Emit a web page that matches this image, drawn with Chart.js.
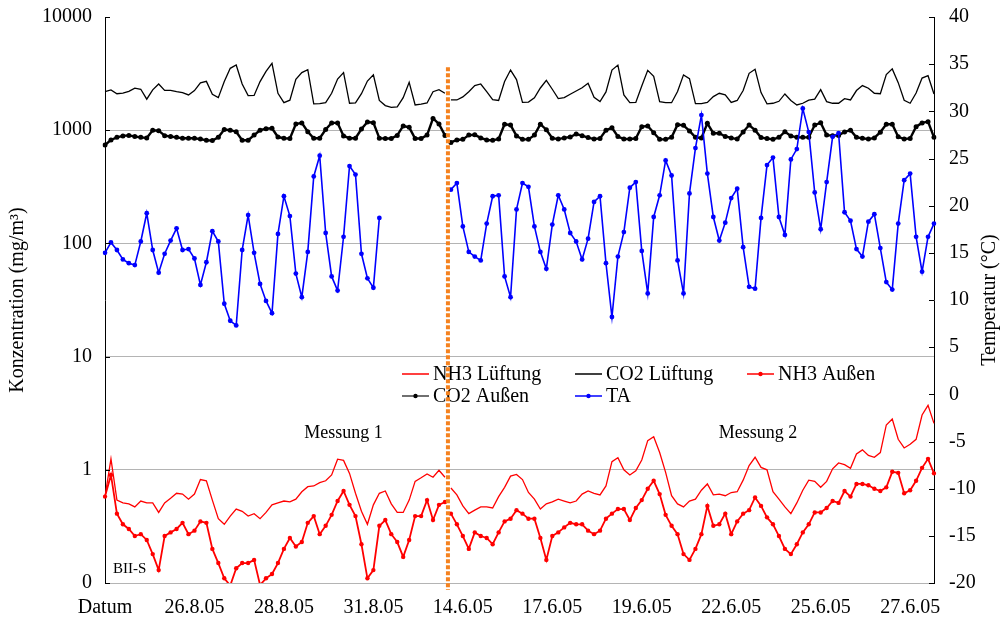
<!DOCTYPE html>
<html>
<head>
<meta charset="utf-8">
<script src="https://cdn.jsdelivr.net/npm/chart.js@4.4.1/dist/chart.umd.min.js"></script>
<style>
  html, body { margin: 0; padding: 0; background: #fff; }
</style>
</head>
<body>
<canvas id="myChart" width="1005" height="618"></canvas>
<script>
// x axis: one category per sample, a date label every 15 samples
const tickLabels = ['Datum', '26.8.05', '28.8.05', '31.8.05', '14.6.05', '17.6.05', '19.6.05', '22.6.05', '25.6.05', '27.6.05'];
const labelEvery = 15;
const splitIndex = 58; // first sample of Messung 2

const concTicks = [0.1, 1, 10, 100, 1000, 10000];

// CO2 Lüftung (mg/m3)
const co2Luft = [
  2190, 2270, 2100, 2130, 2200, 2350, 2300, 1880, 2270, 2560,
  2250, 2250, 2190, 2150, 2050, 2240, 2620, 2700, 2080, 1940,
  2690, 3520, 3770, 2560, 2020, 2030, 2690, 3310, 3900, 2120,
  1750, 1840, 2820, 3230, 3430, 1710, 1720, 1750, 2120, 2830,
  3230, 1730, 1740, 2100, 2720, 3080, 1830, 1650, 1590, 1610,
  1940, 2650, 1670, 1700, 1740, 2190, 2280, 2120,
  1850, 1850, 1970, 2190, 2480, 2560, 2190, 1860, 1830, 2690,
  3400, 2800, 1760, 1770, 1930, 2360, 2760, 2300, 1900, 1940,
  2080, 2220, 2370, 2600, 1950, 1790, 2180, 3400, 3760, 2050,
  1750, 1760, 2460, 3380, 2990, 1790, 1750, 1750, 2200, 3080,
  2850, 1720, 1720, 1760, 1980, 2120, 2050, 1760, 1830, 2240,
  3180, 3450, 2150, 1710, 1730, 1800, 2090, 1830, 1670, 1730,
  1840, 1880, 2280, 1790, 1730, 1730, 1900, 1850, 2240, 2480,
  2350, 2120, 2100, 3100, 3480, 2630, 1840, 1730, 2130, 2890,
  3030, 2090
];

// CO2 Außen (mg/m3)
const co2Aussen = [
  740, 820, 865, 890, 900, 880, 865, 855, 1000, 990,
  895, 880, 865, 850, 850, 850, 835, 815, 810, 865,
  1015, 1000, 970, 815, 815, 905, 1000, 1030, 1040, 870,
  850, 845, 1135, 1160, 970, 850, 850, 1015, 1160, 1160,
  890, 850, 850, 1025, 1180, 1165, 850, 845, 845, 900,
  1090, 1060, 845, 845, 905, 1270, 1135, 900,
  780, 820, 830, 905, 910, 855, 820, 815, 835, 1130,
  1110, 890, 830, 830, 905, 1130, 1010, 850, 835, 855,
  870, 925, 895, 860, 835, 845, 1000, 1050, 880, 835,
  835, 845, 1075, 1090, 950, 830, 830, 865, 1120, 1105,
  985, 865, 855, 1150, 940, 940, 880, 855, 835, 965,
  1110, 1000, 860, 845, 830, 865, 970, 890, 865, 865,
  865, 1110, 1165, 905, 895, 900, 965, 1000, 865, 850,
  835, 855, 960, 1130, 1130, 875, 835, 845, 1075, 1160,
  1190, 865
];

// NH3 Lüftung (mg/m3)
const nh3Luft = [
  0.58, 1.25, 0.54, 0.51, 0.50, 0.47, 0.53, 0.51, 0.51, 0.42,
  0.51, 0.56, 0.62, 0.61, 0.55, 0.61, 0.82, 0.80, 0.54, 0.37,
  0.33, 0.39, 0.45, 0.43, 0.39, 0.41, 0.37, 0.42, 0.49, 0.51,
  0.53, 0.52, 0.55, 0.64, 0.71, 0.72, 0.77, 0.80, 0.90, 1.24,
  1.21, 0.93, 0.62, 0.43, 0.33, 0.49, 0.62, 0.65, 0.50, 0.42,
  0.42, 0.54, 0.79, 0.85, 0.92, 0.86, 0.99, 0.86,
  0.69, 0.60, 0.48, 0.41, 0.44, 0.47, 0.47, 0.46, 0.58, 0.70,
  0.88, 0.91, 0.82, 0.63, 0.55, 0.45, 0.50, 0.52, 0.55, 0.53,
  0.51, 0.53, 0.61, 0.65, 0.62, 0.60, 0.72, 1.18, 1.28, 1.00,
  0.90, 0.98, 1.22, 1.81, 1.96, 1.42, 0.95, 0.59, 0.50, 0.47,
  0.53, 0.55, 0.66, 0.75, 0.60, 0.61, 0.59, 0.63, 0.64, 0.81,
  1.09, 1.29, 1.05, 1.00, 0.64, 0.55, 0.47, 0.41, 0.51, 0.66,
  0.81, 0.79, 0.70, 0.79, 1.02, 1.15, 1.11, 1.03, 1.38, 1.50,
  1.34, 1.29, 1.42, 2.49, 2.81, 1.86, 1.56, 1.68, 1.86, 3.05,
  3.71, 2.57
];

// NH3 Außen (mg/m3)
const nh3Aussen = [
  0.58, 0.90, 0.41, 0.33, 0.30, 0.26, 0.27, 0.24, 0.18, 0.13,
  0.26, 0.28, 0.30, 0.34, 0.27, 0.29, 0.35, 0.34, 0.20, 0.15,
  0.11, 0.095, 0.135, 0.15, 0.15, 0.16, 0.096, 0.11, 0.12, 0.15,
  0.20, 0.25, 0.21, 0.23, 0.34, 0.39, 0.27, 0.32, 0.40, 0.53,
  0.65, 0.49, 0.39, 0.22, 0.11, 0.13, 0.32, 0.36, 0.27, 0.23,
  0.17, 0.24, 0.39, 0.39, 0.54, 0.36, 0.49, 0.52,
  0.41, 0.33, 0.26, 0.20, 0.28, 0.26, 0.25, 0.22, 0.28, 0.35,
  0.37, 0.44, 0.41, 0.37, 0.37, 0.25, 0.16, 0.26, 0.28, 0.31,
  0.34, 0.33, 0.33, 0.29, 0.27, 0.29, 0.37, 0.41, 0.45, 0.45,
  0.36, 0.46, 0.54, 0.68, 0.80, 0.61, 0.40, 0.32, 0.27, 0.18,
  0.16, 0.20, 0.27, 0.48, 0.32, 0.33, 0.41, 0.27, 0.35, 0.41,
  0.44, 0.57, 0.48, 0.38, 0.33, 0.26, 0.20, 0.18, 0.22, 0.28,
  0.33, 0.42, 0.42, 0.46, 0.53, 0.51, 0.65, 0.58, 0.75, 0.75,
  0.73, 0.68, 0.65, 0.70, 0.96, 0.94, 0.62, 0.66, 0.80, 1.04,
  1.25, 0.93
];

// TA (°C), right axis
const ta = [
  15.0, 16.1, 15.3, 14.3, 13.9, 13.7, 16.2, 19.2, 15.3, 12.9,
  14.9, 16.3, 17.6, 15.3, 15.4, 14.4, 11.6, 14.0, 17.3, 16.2,
  9.6, 7.8, 7.3, 15.3, 19.0, 15.0, 11.7, 9.9, 8.6, 17.0,
  21.0, 18.9, 12.8, 10.3, 15.1, 23.1, 25.3, 17.1, 12.5, 11.0,
  16.7, 24.2, 23.3, 14.9, 12.3, 11.3, 18.7,
  null, null, null, null, null, null, null, null, null, null, null,
  21.7, 22.4, 17.8, 15.1, 14.6, 14.2, 18.1, 21.0, 21.1, 12.5,
  10.3, 19.6, 22.4, 22.0, 17.8, 15.1, 13.3, 18.0, 21.1, 19.6,
  17.1, 16.2, 14.3, 16.5, 20.4, 21.0, 13.9, 8.2, 14.6, 17.2,
  21.9, 22.5, 15.2, 10.7, 18.8, 21.1, 24.8, 23.2, 14.2, 10.7,
  21.3, 26.1, 29.6, 23.4, 18.8, 16.3, 18.2, 20.8, 21.8, 15.6,
  11.4, 11.2, 18.7, 24.3, 25.1, 18.8, 16.9, 24.9, 26.0, 30.3,
  27.8, 21.4, 17.5, 22.5, 27.3, 27.7, 19.3, 18.4, 15.4, 14.6,
  18.3, 19.1, 15.5, 11.9, 11.1, 18.1, 22.7, 23.4, 16.7, 13.0,
  16.7, 18.1
];

const labels = co2Luft.map((v, i) => i % labelEvery === 0 ? (tickLabels[i / labelEvery] || '') : '');

const serif = "'Liberation Serif', 'Times New Roman', serif";
const hidden = 'rgba(0,0,0,0)';
const gapAtSplit = { borderColor: c => c.p1DataIndex === splitIndex ? hidden : undefined };

function series(label, data, color, axis, width, radius) {
  return {
    label: label,
    data: data,
    yAxisID: axis,
    borderColor: color,
    backgroundColor: color,
    borderWidth: width,
    pointRadius: radius,
    pointHoverRadius: radius,
    pointBorderWidth: 0,
    pointBackgroundColor: color,
    tension: 0,
    spanGaps: false,
    segment: gapAtSplit
  };
}

// keep the plot area where the reference has it
function fixBox(w, h) {
  return s => {
    if (w) s.width = w;
    if (h) s.height = h;
    s.paddingTop = 0;
    s.paddingBottom = 0;
    s.paddingLeft = 0;
    s.paddingRight = 0;
  };
}

const legendOrder = ['NH3 Lüftung', 'CO2 Lüftung', 'NH3 Außen', 'CO2 Außen', 'TA'];

const extras = {
  id: 'extras',
  afterDatasetsDraw(chart) {
    const { ctx, chartArea } = chart;
    const xs = chart.scales.x, ys = chart.scales.y, yt = chart.scales.y1;
    ctx.save();

    // inward tick marks
    ctx.strokeStyle = '#000';
    ctx.lineWidth = 1;
    ctx.beginPath();
    ys.ticks.forEach(t => {
      const y = Math.round(ys.getPixelForValue(t.value)) + 0.5;
      ctx.moveTo(chartArea.left, y);
      ctx.lineTo(chartArea.left + 5, y);
    });
    yt.ticks.forEach(t => {
      const y = Math.round(yt.getPixelForValue(t.value)) + 0.5;
      ctx.moveTo(chartArea.right, y);
      ctx.lineTo(chartArea.right - 5, y);
    });
    ctx.stroke();

    // legend
    ctx.font = '20px ' + serif;
    ctx.textBaseline = 'middle';
    ctx.textAlign = 'left';
    const cols = [402, 575, 747], rows = [374, 396];
    legendOrder.forEach((name, k) => {
      const ds = chart.data.datasets.find(d => d.label === name);
      const x = cols[k % 3], y = rows[Math.floor(k / 3)];
      ctx.strokeStyle = name === 'CO2 Außen' ? '#404040' : ds.borderColor;
      ctx.lineWidth = 1.5;
      ctx.beginPath();
      ctx.moveTo(x, y);
      ctx.lineTo(x + 27, y);
      ctx.stroke();
      if (ds.pointRadius > 0) {
        ctx.fillStyle = ds.borderColor;
        ctx.beginPath();
        ctx.arc(x + 13.5, y, 2.2, 0, Math.PI * 2);
        ctx.fill();
      }
      ctx.fillStyle = '#000';
      ctx.fillText(name, x + 31, y + 1);
    });

    // split between both measurements
    const sx = xs.getPixelForValue(splitIndex - 0.5);
    ctx.strokeStyle = '#f5821f';
    ctx.lineWidth = 4;
    ctx.setLineDash([4, 2]);
    ctx.beginPath();
    ctx.moveTo(sx, ys.getPixelForValue(3600));
    ctx.lineTo(sx, chartArea.bottom + 7);
    ctx.stroke();
    ctx.setLineDash([]);

    // texts
    ctx.fillStyle = '#000';
    ctx.textAlign = 'center';
    ctx.font = '18px ' + serif;
    ctx.fillText('Messung 1', xs.getPixelForValue(40), 433);
    ctx.fillText('Messung 2', xs.getPixelForValue(109.5), 433);
    ctx.textAlign = 'left';
    ctx.font = '15px ' + serif;
    ctx.fillText('BII-S', chartArea.left + 8, chartArea.bottom - 14);

    // right axis title
    ctx.font = '20px ' + serif;
    ctx.textAlign = 'center';
    ctx.translate(990, (chartArea.top + chartArea.bottom) / 2);
    ctx.rotate(-Math.PI / 2);
    ctx.fillText('Temperatur (°C)', 0, 0);
    ctx.restore();
  }
};

const myChart = new Chart(document.getElementById('myChart'), {
  type: 'line',
  data: {
    labels: labels,
    datasets: [
      series('TA', ta, '#0000ff', 'y1', 1.6, 2.4),
      series('NH3 Außen', nh3Aussen, '#ff0000', 'y', 1.8, 2.2),
      series('CO2 Außen', co2Aussen, '#000000', 'y', 2.4, 2.5),
      series('NH3 Lüftung', nh3Luft, '#ff0000', 'y', 1.3, 0),
      series('CO2 Lüftung', co2Luft, '#000000', 'y', 1.3, 0)
    ]
  },
  options: {
    responsive: false,
    animation: false,
    devicePixelRatio: 1,
    events: [],
    layout: { padding: { top: 17, left: 0, right: 0, bottom: 0 } },
    plugins: {
      legend: { display: false },
      tooltip: { enabled: false }
    },
    scales: {
      x: {
        type: 'category',
        offset: false,
        grid: { display: false, drawTicks: false },
        border: { display: false },
        ticks: {
          autoSkip: false,
          maxRotation: 0,
          padding: 13,
          color: '#000',
          font: { family: serif, size: 20 }
        },
        afterFit: fixBox(0, 35)
      },
      y: {
        type: 'logarithmic',
        position: 'left',
        min: 0.1,
        max: 10000,
        afterBuildTicks: s => { s.ticks = concTicks.map(v => ({ value: v })); },
        ticks: {
          padding: 13,
          color: '#000',
          font: { family: serif, size: 20 },
          callback: v => v < 1 ? '0' : String(v)
        },
        grid: {
          drawTicks: false,
          lineWidth: 1,
          color: c => (c.tick && c.tick.value === 10000) ? hidden : '#b4b4b4'
        },
        border: { display: true, color: '#000', width: 1 },
        title: {
          display: true,
          text: 'Konzentration (mg/m³)',
          color: '#000',
          font: { family: serif, size: 20 },
          padding: { top: 6, bottom: 0 }
        },
        afterFit: fixBox(105, 0)
      },
      y1: {
        type: 'linear',
        position: 'right',
        min: -20,
        max: 40,
        ticks: {
          stepSize: 5,
          padding: 15,
          color: '#000',
          font: { family: serif, size: 20 }
        },
        grid: { display: false, drawTicks: false, drawOnChartArea: false },
        border: { display: true, color: '#000', width: 1 },
        afterFit: fixBox(71, 0)
      }
    }
  },
  plugins: [extras]
});
</script>
</body>
</html>
